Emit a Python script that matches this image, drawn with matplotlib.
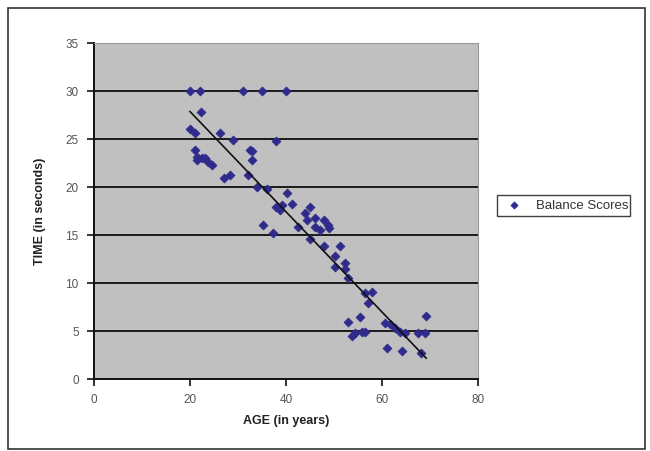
import matplotlib

matplotlib.use("Agg")
import matplotlib.pyplot as plt
from matplotlib.patches import Rectangle

# Balance scores
AGE = [
    20, 22, 31, 35, 40,
    22.3, 20, 21, 26.3, 29, 38,
    21, 21.4, 22.5, 23.1, 23.8, 24.5, 21.4,
    32.5, 33, 33, 27, 28.3, 32, 34, 36,
    35.2, 37.3, 40.2, 38, 38.8, 39.2, 41.2,
    45, 44, 44.3, 46, 48, 48.8, 46, 47, 49,
    42.5, 45, 48, 51.3,
    50.2, 52.3, 50.2, 52.3, 53,
    56.5, 58, 57, 53, 55.4,
    53.8, 54.4, 55.8, 56.5,
    60.6, 61.7, 62.7, 63.7, 64.8, 67.5, 69, 69.2,
    61, 64.2, 68.1,
]
TIME = [
    30, 30, 30, 30, 30,
    27.8, 26.0, 25.6, 25.6, 24.9, 24.8,
    23.9, 23.1, 23.0, 23.0, 22.6, 22.3, 22.8,
    23.9, 23.7, 22.8, 20.9, 21.2, 21.2, 20.0, 19.8,
    16.0, 15.2, 19.4, 17.9, 17.6, 18.1, 18.2,
    17.9, 17.3, 16.6, 16.8, 16.6, 16.0, 15.8, 15.5, 15.7,
    15.8, 14.6, 13.9, 13.9,
    12.8, 12.1, 11.7, 11.5, 10.5,
    9.0, 9.1, 7.9, 5.9, 6.5,
    4.5, 4.8, 4.9, 4.9,
    5.8, 5.7, 5.3, 4.9, 4.8, 4.8, 4.8, 6.6,
    3.2, 2.9, 2.7,
]

# linear trendline as drawn in the reference
TREND_INTERCEPT = 38.3
TREND_SLOPE = -0.522

X_TICKS = [0, 20, 40, 60, 80]
Y_TICKS = [0, 5, 10, 15, 20, 25, 30, 35]


def main() -> None:
    plt.rcParams["font.family"] = ["Liberation Sans", "DejaVu Sans"]

    fig = plt.figure(figsize=(6.5, 4.51), dpi=100)
    ax = fig.add_axes([94 / 650, 1 - 379 / 451, 384 / 650, 336 / 451])
    ax.set_facecolor("#C0C0C0")

    for y in Y_TICKS[1:-1]:
        ax.axhline(y, color="#1A1A1A", linewidth=1.4, zorder=1)

    ax.scatter(AGE, TIME, marker="D", s=22, color="#2F2B8C",
               edgecolors="#2F2B8C", linewidths=0.4, zorder=3,
               label="Balance Scores")

    x0, x1 = min(AGE), max(AGE)
    ax.plot([x0, x1], [TREND_INTERCEPT + TREND_SLOPE * x0,
                       TREND_INTERCEPT + TREND_SLOPE * x1],
            color="#111111", linewidth=1.2, zorder=4)

    ax.set_xlim(0, 80)
    ax.set_ylim(0, 35)
    ax.set_xticks(X_TICKS)
    ax.set_yticks(Y_TICKS)
    ax.tick_params(direction="out", length=5, width=1.2, colors="#111111",
                   labelcolor="#555555", labelsize=8.5, pad=6)

    for side in ("left", "bottom"):
        ax.spines[side].set_color("#111111")
        ax.spines[side].set_linewidth(1.4)
    for side in ("top", "right"):
        ax.spines[side].set_color("#9A9A9A")
        ax.spines[side].set_linewidth(0.8)

    ax.set_xlabel("AGE (in years)", fontsize=9, fontweight="bold",
                  color="#222222", labelpad=6)
    ax.set_ylabel("TIME (in seconds)", fontsize=9, fontweight="bold",
                  color="#222222", labelpad=14)

    fig.legend(loc="center left", mode="expand",
               bbox_to_anchor=(490 / 650, 1 - 217 / 451, 147 / 650, 23 / 451),
               frameon=True, fancybox=False, edgecolor="#111111",
               fontsize=9.5, handletextpad=0.6, borderpad=0.35,
               markerscale=0.8, labelcolor="#333333")

    fig.patches.append(Rectangle((8 / 650, 1 - 449 / 451), 637 / 650, 441 / 451,
                                 transform=fig.transFigure, fill=False,
                                 edgecolor="#333333", linewidth=1.2))

    fig.savefig("out.png", dpi=100)
    plt.close(fig)


if __name__ == "__main__":
    main()
